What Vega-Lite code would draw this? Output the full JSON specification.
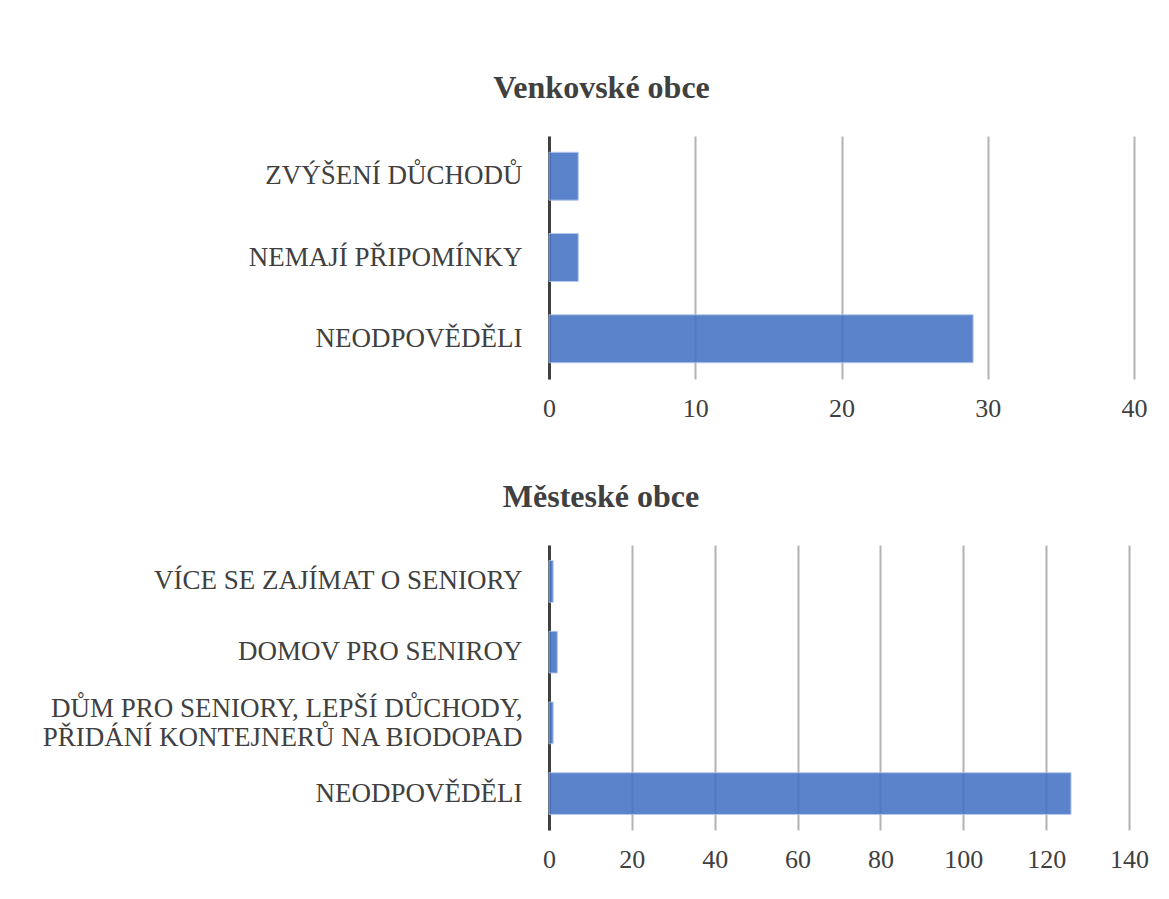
{
  "$schema": "https://vega.github.io/schema/vega-lite/v6.json",
  "padding": {"left": 40, "top": 72, "right": 30, "bottom": 5},
  "background": "white",
  "spacing": 60,
  "config": {
    "font": "Liberation Serif",
    "view": {"stroke": null},
    "axis": {"labelFont": "Liberation Serif", "labelColor": "#404040", "titleColor": "#404040"},
    "title": {"font": "Liberation Serif", "fontSize": 32, "fontWeight": "bold", "color": "#404040", "anchor": "middle", "frame": "group"}
  },
  "vconcat": [
    {
      "title": {"text": "Venkovské obce", "dx": -240, "offset": 31},
      "width": 585,
      "height": 243,
      "data": {"values": [
        {"kategorie": "ZVÝŠENÍ DŮCHODŮ", "pocet": 2},
        {"kategorie": "NEMAJÍ PŘIPOMÍNKY", "pocet": 2},
        {"kategorie": "NEODPOVĚDĚLI", "pocet": 29}
      ]},
      "mark": {"type": "bar", "color": "#4472C4", "opacity": 0.88, "stroke": "#a9c1ea", "strokeWidth": 1},
      "encoding": {
        "y": {
          "field": "kategorie", "type": "nominal", "sort": null, "title": null,
          "scale": {"paddingInner": 0.41, "paddingOuter": 0.2},
          "axis": {"labelFontSize": 27, "labelPadding": 27, "ticks": false, "domainColor": "#404040", "domainWidth": 3, "labelLimit": 600}
        },
        "x": {
          "field": "pocet", "type": "quantitative", "title": null,
          "scale": {"domain": [0, 40], "nice": false},
          "axis": {"values": [0, 10, 20, 30, 40], "labelFontSize": 26, "labelPadding": 16, "labelFlush": false, "ticks": false, "domain": false, "grid": true, "gridColor": "#b3b3b3", "gridWidth": 2}
        }
      }
    },
    {
      "title": {"text": "Městeské obce", "dx": -238, "offset": 31},
      "width": 580,
      "height": 285,
      "data": {"values": [
        {"kategorie": "VÍCE SE ZAJÍMAT O SENIORY", "pocet": 1},
        {"kategorie": "DOMOV PRO SENIROY", "pocet": 2},
        {"kategorie": "DŮM PRO SENIORY, LEPŠÍ DŮCHODY,|PŘIDÁNÍ KONTEJNERŮ NA BIODOPAD", "pocet": 1},
        {"kategorie": "NEODPOVĚDĚLI", "pocet": 126}
      ]},
      "mark": {"type": "bar", "color": "#4472C4", "opacity": 0.88, "stroke": "#a9c1ea", "strokeWidth": 1},
      "encoding": {
        "y": {
          "field": "kategorie", "type": "nominal", "sort": null, "title": null,
          "scale": {"paddingInner": 0.41, "paddingOuter": 0.22},
          "axis": {
            "labelFontSize": 27, "labelPadding": 27, "ticks": false, "domainColor": "#404040", "domainWidth": 3, "labelLimit": 600,
            "labelExpr": "split(datum.label, '|')", "labelLineHeight": 29,
            "labelOffset": {"condition": {"test": "indexof(datum.value, '|') >= 0", "value": -14}, "value": 0}
          }
        },
        "x": {
          "field": "pocet", "type": "quantitative", "title": null,
          "scale": {"domain": [0, 140], "nice": false},
          "axis": {"values": [0, 20, 40, 60, 80, 100, 120, 140], "labelFontSize": 26, "labelPadding": 16, "labelFlush": false, "ticks": false, "domain": false, "grid": true, "gridColor": "#b3b3b3", "gridWidth": 2}
        }
      }
    }
  ]
}
